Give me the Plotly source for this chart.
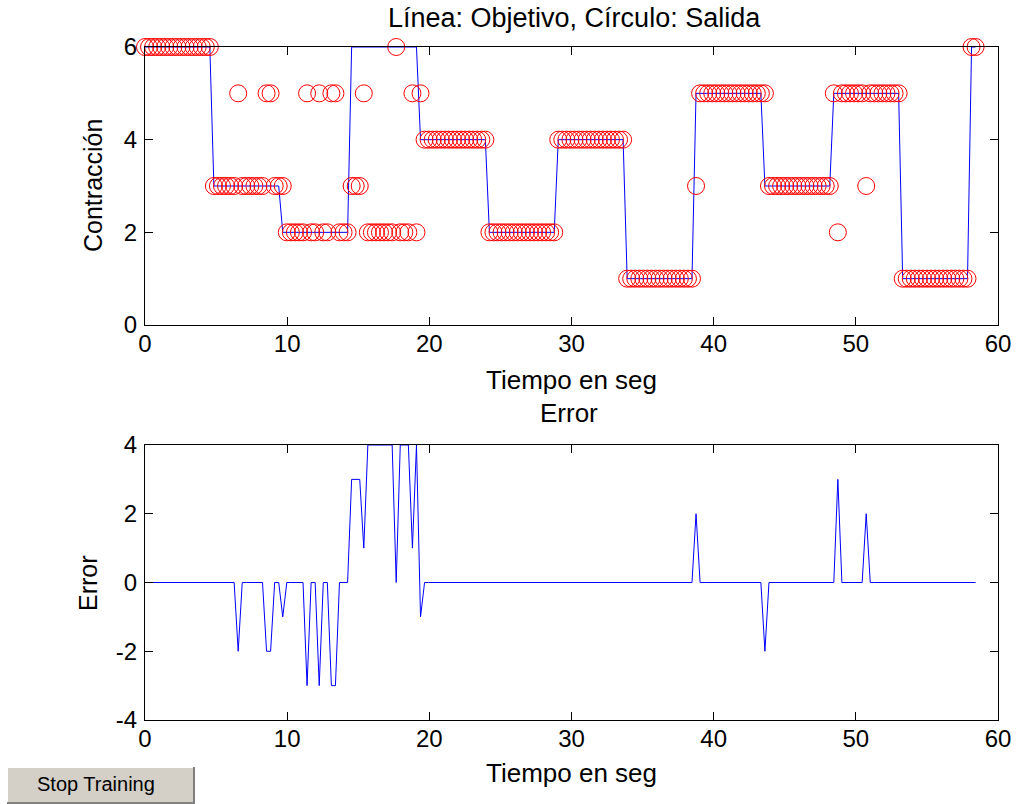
import numpy as np
import plotly.graph_objects as go

# ---------------- data ----------------
dt = 0.285                       # sample period (s)
target_levels = [6, 3, 2, 6, 4, 2, 4, 1, 5, 3, 5, 1, 6]
segment_len = [17, 17, 17, 17, 17, 17, 17, 17, 17, 17, 17, 17, 2]

output_seg = [
    [6] * 17,
    [3, 3, 3, 3, 3, 3, 5, 3, 3, 3, 3, 3, 3, 5, 5, 3, 3],
    [3, 2, 2, 2, 2, 2, 5, 2, 2, 5, 2, 2, 5, 5, 2, 2, 2],
    [3, 3, 3, 5, 2, 2, 2, 2, 2, 2, 2, 6, 2, 2, 2, 5, 2],
    [5] + [4] * 16,
    [2] * 17,
    [4] * 17,
    [1] * 17,
    [3] + [5] * 16,
    [5] + [3] * 16,
    [5, 2, 5, 5, 5, 5, 5, 5, 3, 5, 5, 5, 5, 5, 5, 5, 5],
    [1] * 17,
    [6, 6],
]

x_ticks = [0, 10, 20, 30, 40, 50, 60]
y_ticks_top = [0, 2, 4, 6]
y_ticks_bot = [-4, -2, 0, 2, 4]
y_ticktext_bot = ["-4", "-2", "0", "2", "4"]

target = np.repeat(target_levels, segment_len)
output = np.concatenate([np.array(s) for s in output_seg])
t = np.arange(len(target)) * dt
error = target - output

# ---------------- layout helpers ----------------
W, H = 1016, 804
ML, MR, MT, MB = 145, 18, 47, 84
PW, PH = W - ML - MR, H - MT - MB


def px(x):
    return (x - ML) / PW


def py(y):
    return (H - MB - y) / PH


FONT = "Liberation Sans, Arial, sans-serif"

fig = go.Figure()

fig.add_trace(go.Scatter(x=t, y=target, mode="lines",
                         line=dict(color="#0000ff", width=1),
                         xaxis="x", yaxis="y", showlegend=False))
fig.add_trace(go.Scatter(x=t, y=output, mode="markers",
                         marker=dict(symbol="circle-open", size=17,
                                     color="#ff0000", line=dict(width=1, color="#ff0000")),
                         cliponaxis=False,
                         xaxis="x", yaxis="y", showlegend=False))
fig.add_trace(go.Scatter(x=t, y=error, mode="lines",
                         line=dict(color="#0000ff", width=1),
                         xaxis="x2", yaxis="y2", showlegend=False))

axis_common = dict(
    showgrid=False, zeroline=False, showline=True, linecolor="black", linewidth=1,
    mirror="ticks", ticks="inside", ticklen=8, tickwidth=1, tickcolor="black",
    tickfont=dict(family=FONT, size=24, color="black"), automargin=False,
    ticklabeloverflow="allow",
)

top_dom = [py(325), 1.0]
bot_dom = [0.0, py(445)]

fig.update_layout(
    width=W, height=H, autosize=False,
    margin=dict(l=ML, r=MR, t=MT, b=MB, pad=0, autoexpand=False),
    paper_bgcolor="white", plot_bgcolor="white",
    xaxis=dict(domain=[0, 1], range=[0, 60], tickvals=x_ticks, anchor="y",
               ticklabelstandoff=-3, **axis_common),
    yaxis=dict(domain=top_dom, range=[0, 6], tickvals=y_ticks_top, anchor="x",
               ticklabelstandoff=2, **axis_common),
    xaxis2=dict(domain=[0, 1], range=[0, 60], tickvals=x_ticks, anchor="y2",
                ticklabelstandoff=-3, **axis_common),
    yaxis2=dict(domain=bot_dom, range=[-4, 4], tickvals=y_ticks_bot,
                ticktext=y_ticktext_bot, anchor="x2",
                ticklabelstandoff=2, **axis_common),
)

texts = [
    ("Línea: Objetivo, Círculo: Salida", 574, 18, 27, 0),
    ("Tiempo en seg", 571, 380, 26, 0),
    ("Error", 569, 413, 26, 0),
    ("Tiempo en seg", 571, 773, 26, 0),
    ("Contracción", 93, 186, 25, -90),
    ("Error", 88, 583, 25, -90),
]
for txt, x, y, s, ang in texts:
    fig.add_annotation(text=txt, x=px(x), y=py(y), xref="paper", yref="paper",
                       showarrow=False, textangle=ang, xanchor="center", yanchor="middle",
                       font=dict(family=FONT, size=s, color="black"))

# Stop Training button
bx0, bx1, by0, by1 = 7, 194, 767, 803
fig.add_shape(type="rect", xref="paper", yref="paper",
              x0=px(bx0), x1=px(bx1), y0=py(by1), y1=py(by0),
              fillcolor="#d4d0c8", line=dict(width=0), layer="above")
fig.add_shape(type="path", xref="paper", yref="paper",
              path=f"M {px(bx0)},{py(by1)} L {px(bx0)},{py(by0)} L {px(bx1)},{py(by0)}",
              line=dict(color="white", width=2), layer="above")
fig.add_shape(type="path", xref="paper", yref="paper",
              path=f"M {px(bx0)},{py(by1)} L {px(bx1)},{py(by1)} L {px(bx1)},{py(by0)}",
              line=dict(color="#808080", width=2), layer="above")
fig.add_annotation(text="Stop Training", x=px(96), y=py(784), xref="paper", yref="paper",
                   showarrow=False, xanchor="center", yanchor="middle",
                   font=dict(family=FONT, size=20, color="black"))

fig.write_html("out.html", config={"displayModeBar": False},
               post_script="document.body.style.margin='0px';")
